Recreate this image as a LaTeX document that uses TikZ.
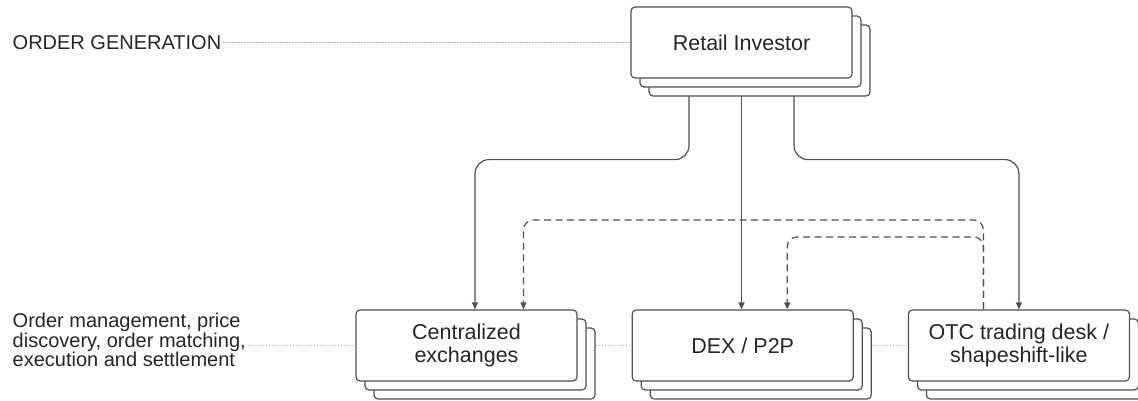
\documentclass[tikz,border=0pt]{standalone}
\usepackage{fontspec}
\setmainfont{Liberation Sans}
\usetikzlibrary{positioning,shadows,arrows.meta,backgrounds}
\definecolor{txtgray}{HTML}{262626}
\definecolor{linegray}{HTML}{505050}
\definecolor{dotgray}{HTML}{A8A8A8}
\tikzset{
  stack/.style={draw=linegray, line width=1.2pt, fill=white, rounded corners=4pt,
    minimum width=221pt, minimum height=71pt, align=center, text=txtgray,
    font=\fontsize{21.5}{23}\selectfont,
    copy shadow={shadow xshift=18pt, shadow yshift=-18pt, fill=white, draw=linegray},
    copy shadow={shadow xshift=9pt, shadow yshift=-9pt, fill=white, draw=linegray}},
  sidelabel/.style={anchor=west, align=left, text=txtgray, inner sep=2pt,
    font=\fontsize{20}{17.5}\selectfont},
  guide/.style={dotgray, line width=0.8pt, dash pattern=on 1.5pt off 1.5pt},
  flow/.style={linegray, line width=1.2pt, rounded corners=14pt,
    -{Triangle[length=7pt,width=6pt]}},
  back/.style={flow, dash pattern=on 7pt off 4.5pt, rounded corners=10pt}
}
\begin{document}
\begin{tikzpicture}[x=1pt,y=1pt]
  \useasboundingbox (0,0) rectangle (1138,400);
  \node[stack] (ret) at (741.5,357.5) {Retail Investor};
  \node[stack] (cex) at (466.5,54.5) {Centralized\\exchanges};
  \node[stack, right=54pt of cex] (dex) {DEX / P2P};
  \node[stack, right=54pt of dex] (otc) {OTC trading desk /\\shapeshift-like};
  \node[sidelabel] (gen) at (10.5,357.5) {ORDER GENERATION};
  \node[sidelabel] (mgmt) at (10.5,60) {Order management, price\\discovery, order matching,\\execution and settlement};
  \begin{scope}[on background layer]
    \draw[guide] (gen.east) -- (ret.west);
    \draw[guide] (mgmt.east |- cex.west) -- (cex.west);
    \draw[guide] (cex.east) -- (dex.west);
    \draw[guide] (dex.east) -- (otc.west);
    \draw[flow] ([xshift=-52.5pt]ret.south) -- ++(0,-81) -| ([xshift=8.5pt]cex.north);
    \draw[flow] (ret.south) -- (ret.south |- dex.north);
    \draw[flow] ([xshift=52.5pt]ret.south) -- ++(0,-81) -| (otc.north);
    \draw[back] ([xshift=-35.5pt]otc.north) -- ++(0,89.5) -| ([xshift=57pt]cex.north);
    \draw[back] ([xshift=-35.5pt]otc.north) -- ++(0,72.5) -| ([xshift=44.5pt]dex.north);
  \end{scope}
\end{tikzpicture}
\end{document}
